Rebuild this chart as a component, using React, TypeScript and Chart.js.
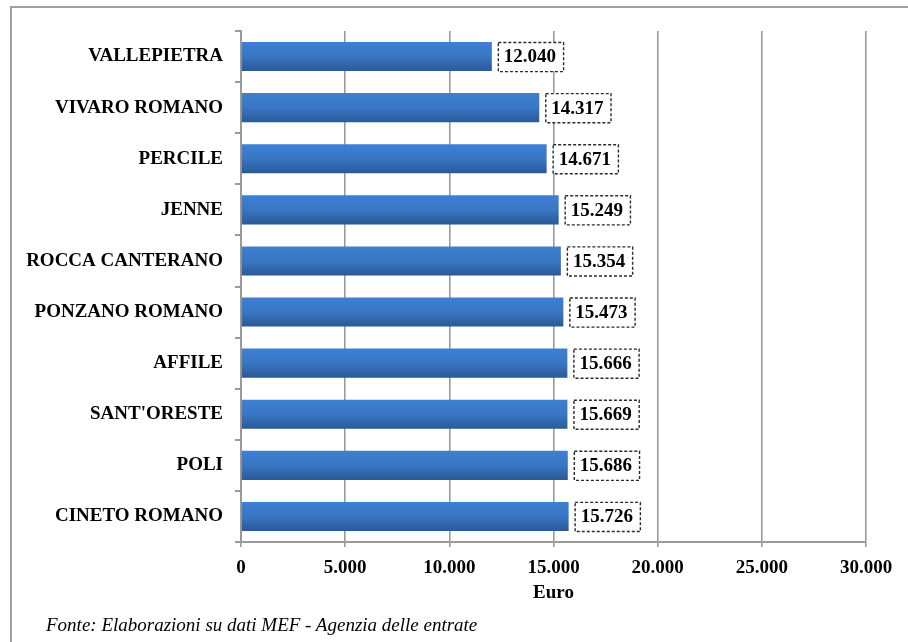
import React, { useEffect, useRef } from "react";
import { Chart, registerables } from "chart.js";

Chart.register(...registerables);

const categories = [
  "VALLEPIETRA",
  "VIVARO ROMANO",
  "PERCILE",
  "JENNE",
  "ROCCA CANTERANO",
  "PONZANO ROMANO",
  "AFFILE",
  "SANT'ORESTE",
  "POLI",
  "CINETO ROMANO",
];
const values = [12040, 14317, 14671, 15249, 15354, 15473, 15666, 15669, 15686, 15726];
const xTicks = [0, 5000, 10000, 15000, 20000, 25000, 30000];
const axisTitle = "Euro";
const footnote = "Fonte: Elaborazioni su dati MEF - Agenzia delle entrate";

const FONT = "'Liberation Serif', 'Times New Roman', serif";

function fmt(v: number): string {
  const s = Math.round(v).toString();
  return s.replace(/\B(?=(\d{3})+(?!\d))/g, ".");
}

const labelPlugin = {
  id: "boxLabels",
  afterDatasetsDraw(chart: any) {
    const ctx = chart.ctx;
    const meta = chart.getDatasetMeta(0);
    ctx.save();
    ctx.font = `bold 19px ${FONT}`;
    ctx.textBaseline = "middle";
    ctx.textAlign = "left";
    meta.data.forEach((bar: any, i: number) => {
      const text = fmt(values[i]);
      const w = ctx.measureText(text).width;
      const left = bar.x + 6;
      const h = bar.height;
      const top = bar.y - h / 2;
      const boxW = w + 13;
      ctx.fillStyle = "#ffffff";
      ctx.fillRect(left, top, boxW, h);
      ctx.setLineDash([3, 2]);
      ctx.lineWidth = 1.4;
      ctx.strokeStyle = "#2a2a2a";
      ctx.strokeRect(left + 0.5, top + 0.5, boxW, h);
      ctx.setLineDash([]);
      ctx.fillStyle = "#000000";
      ctx.fillText(text, left + 6, bar.y + 1);
    });
    ctx.restore();
  },
};

export default function App() {
  const ref = useRef<HTMLCanvasElement | null>(null);
  useEffect(() => {
    if (!ref.current) return;
    const chart = new Chart(ref.current, {
      type: "bar",
      data: {
        labels: categories,
        datasets: [
          {
            data: values,
            barPercentage: 0.57,
            categoryPercentage: 1,
            backgroundColor: (c: any) => {
              const ch = c.chart;
              const ys = ch.scales && ch.scales.y;
              if (!ys || c.dataIndex === undefined) return "#3a78c4";
              const y = ys.getPixelForValue(c.dataIndex);
              if (!isFinite(y)) return "#3a78c4";
              const half = 15;
              const g = ch.ctx.createLinearGradient(0, y - half, 0, y + half);
              g.addColorStop(0, "#3e80d2");
              g.addColorStop(0.5, "#3976c4");
              g.addColorStop(1, "#2a5894");
              return g;
            },
            borderWidth: 0,
          },
        ],
      },
      options: {
        indexAxis: "y",
        responsive: false,
        animation: false,
        maintainAspectRatio: false,
        layout: { padding: { top: 31, right: 42, left: 0, bottom: 0 } },
        plugins: {
          legend: { display: false },
          tooltip: { enabled: false },
        },
        scales: {
          x: {
            min: 0,
            max: 30000,
            afterFit: (s: any) => {
              s.height = 100;
            },
            afterBuildTicks: (s: any) => {
              s.ticks = xTicks.map((v) => ({ value: v }));
            },
            ticks: {
              color: "#000",
              font: { family: FONT, size: 19, weight: "bold" },
              padding: 10,
              maxRotation: 0,
              callback: (v: any) => fmt(Number(v)),
            },
            grid: {
              color: "#9a9a9a",
              lineWidth: 1.6,
              drawTicks: true,
              tickLength: 5,
            },
            border: { display: true, color: "#9a9a9a", width: 2 },
            title: {
              display: true,
              text: axisTitle,
              color: "#000",
              font: { family: FONT, size: 19, weight: "bold" },
              padding: { top: 0, bottom: 38 },
            },
          },
          y: {
            afterFit: (s: any) => {
              s.width = 241;
            },
            ticks: {
              color: "#000",
              font: { family: FONT, size: 19, weight: "bold" },
              padding: 12,
            },
            grid: {
              offset: true,
              drawOnChartArea: false,
              drawTicks: true,
              tickLength: 6,
              color: "#9a9a9a",
              lineWidth: 2,
            },
            border: { display: true, color: "#9a9a9a", width: 2 },
          },
        },
      },
      plugins: [labelPlugin],
    } as any);
    return () => chart.destroy();
  }, []);

  return (
    <div
      style={{
        position: "fixed",
        left: 0,
        top: 0,
        width: 908,
        height: 642,
        overflow: "hidden",
        background: "#fff",
      }}
    >
      <div
        style={{
          position: "absolute",
          left: 10,
          top: 6,
          width: 1200,
          height: 1200,
          border: "2px solid #a0a0a0",
          boxSizing: "border-box",
        }}
      />
      <canvas
        ref={ref}
        width={908}
        height={642}
        style={{ position: "absolute", left: 0, top: 0, width: 908, height: 642 }}
      />
      <div
        style={{
          position: "absolute",
          left: 46,
          top: 614,
          fontFamily: FONT,
          fontStyle: "italic",
          fontSize: 19,
          whiteSpace: "nowrap",
          color: "#000",
        }}
      >
        {footnote}
      </div>
    </div>
  );
}
